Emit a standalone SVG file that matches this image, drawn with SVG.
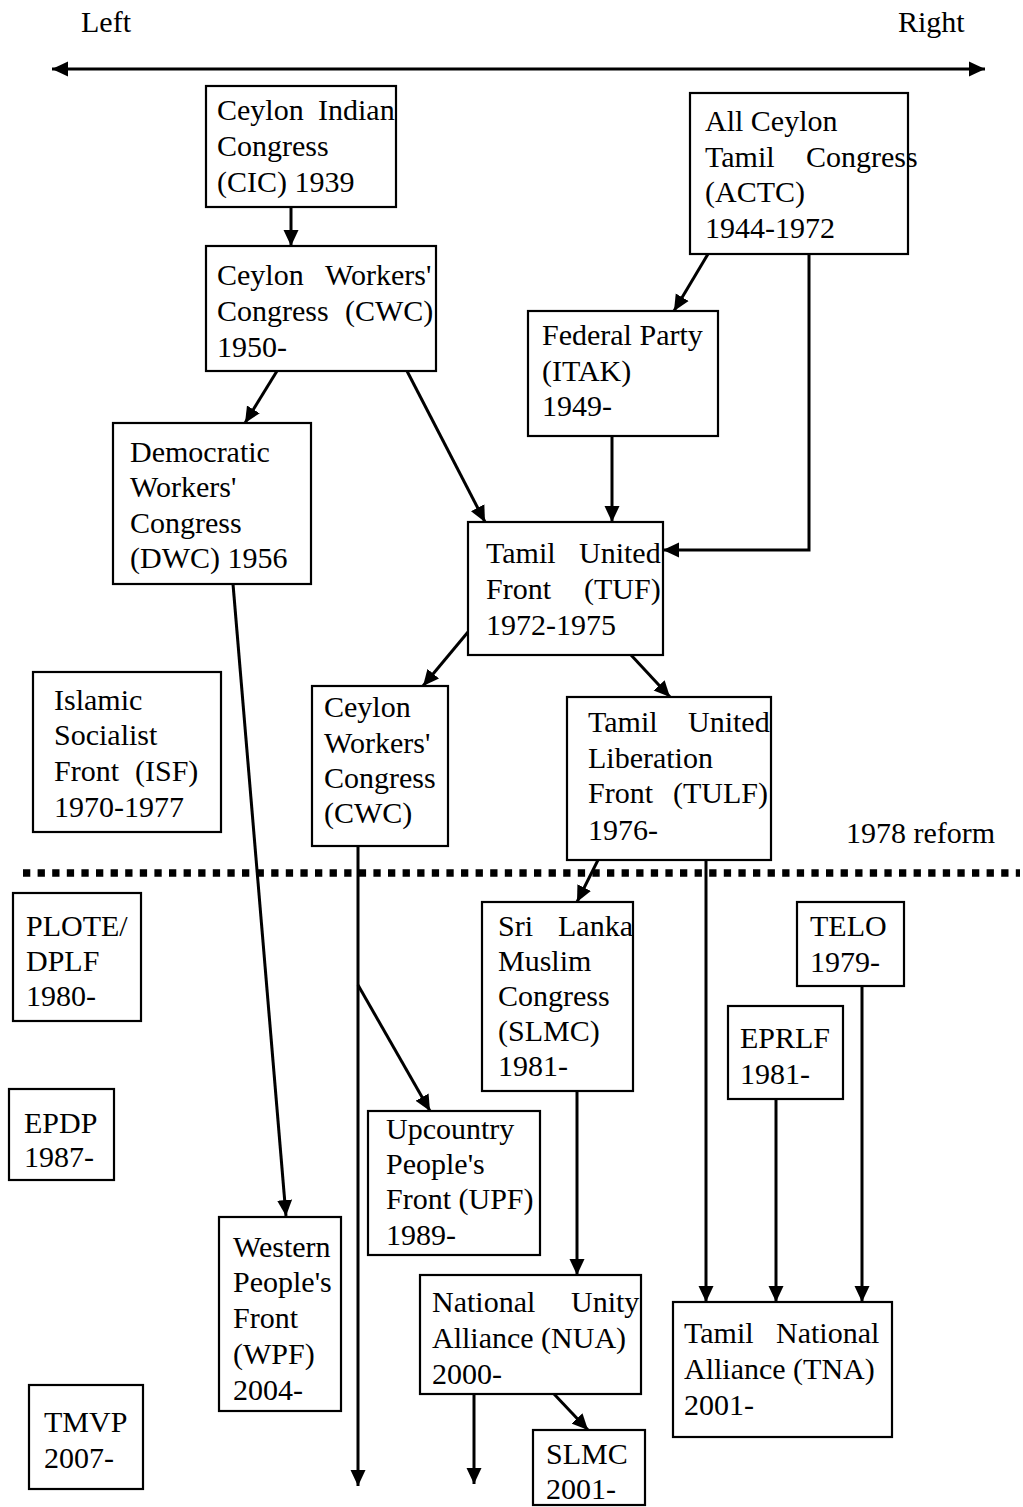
<svg xmlns="http://www.w3.org/2000/svg" width="1023" height="1507" viewBox="0 0 1023 1507">
<style>
.box{fill:#fff;stroke:#000;stroke-width:2.2}
.t{font-family:"Liberation Serif","Times New Roman",serif;font-size:30px;fill:#000}
.c{stroke:#000;stroke-width:3;fill:none}
.dots{stroke:#000;stroke-width:7.3;stroke-dasharray:7.3 7.3;fill:none}
</style>
<defs>
<marker id="ah" markerUnits="userSpaceOnUse" markerWidth="16" markerHeight="16" refX="16" refY="8" orient="auto-start-reverse">
<path d="M0,0.5 L16,8 L0,15.5 z" fill="#000"/>
</marker>
</defs>
<rect width="1023" height="1507" fill="#fff"/>

<g id="axis">
<text class="t" x="81" y="32">Left</text>
<text class="t" x="898" y="32">Right</text>
<line class="c" x1="52" y1="69" x2="985" y2="69" marker-start="url(#ah)" marker-end="url(#ah)"/>
</g>

<g id="reform">
<text class="t" x="846" y="843">1978 reform</text>
<line class="dots" x1="23" y1="873" x2="1020" y2="873"/>
</g>

<g id="connectors">
<path class="c" d="M291,207 L291,246" marker-end="url(#ah)"/>
<path class="c" d="M277,371 L245,423" marker-end="url(#ah)"/>
<path class="c" d="M407,371 L485,522" marker-end="url(#ah)"/>
<path class="c" d="M708,254 L674,311" marker-end="url(#ah)"/>
<path class="c" d="M809,254 L809,550 L663,550" marker-end="url(#ah)"/>
<path class="c" d="M612,436 L612,522" marker-end="url(#ah)"/>
<path class="c" d="M468,632 L423,686" marker-end="url(#ah)"/>
<path class="c" d="M631,655 L670,697" marker-end="url(#ah)"/>
<path class="c" d="M233,584 L286,1216" marker-end="url(#ah)"/>
<path class="c" d="M358,846 L358,1486" marker-end="url(#ah)"/>
<path class="c" d="M358,985 L430,1111" marker-end="url(#ah)"/>
<path class="c" d="M598,860 L577,902" marker-end="url(#ah)"/>
<path class="c" d="M706,860 L706,1302" marker-end="url(#ah)"/>
<path class="c" d="M577,1091 L577,1275" marker-end="url(#ah)"/>
<path class="c" d="M474,1394 L474,1484" marker-end="url(#ah)"/>
<path class="c" d="M554,1394 L588,1430" marker-end="url(#ah)"/>
<path class="c" d="M776,1099 L776,1302" marker-end="url(#ah)"/>
<path class="c" d="M862,986 L862,1302" marker-end="url(#ah)"/>
</g>

<g id="cic">
<rect class="box" x="206" y="86" width="190" height="121"/>
<text class="t"><tspan x="217" y="120">Ceylon</tspan><tspan x="318" y="120">Indian</tspan><tspan x="217" y="156">Congress</tspan><tspan x="217" y="192">(CIC) 1939</tspan></text>
</g>

<g id="cwc1">
<rect class="box" x="206" y="246" width="230" height="125"/>
<text class="t"><tspan x="217" y="285">Ceylon</tspan><tspan x="325" y="285">Workers'</tspan><tspan x="217" y="321">Congress</tspan><tspan x="345" y="321">(CWC)</tspan><tspan x="217" y="357">1950-</tspan></text>
</g>

<g id="actc">
<rect class="box" x="690" y="93" width="218" height="161"/>
<text class="t"><tspan x="705" y="131">All Ceylon</tspan><tspan x="705" y="167">Tamil</tspan><tspan x="806" y="167">Congress</tspan><tspan x="705" y="202">(ACTC)</tspan><tspan x="705" y="238">1944-1972</tspan></text>
</g>

<g id="fp">
<rect class="box" x="528" y="311" width="190" height="125"/>
<text class="t"><tspan x="542" y="345">Federal Party</tspan><tspan x="542" y="381">(ITAK)</tspan><tspan x="542" y="416">1949-</tspan></text>
</g>

<g id="dwc">
<rect class="box" x="113" y="423" width="198" height="161"/>
<text class="t"><tspan x="130" y="462">Democratic</tspan><tspan x="130" y="497">Workers'</tspan><tspan x="130" y="533">Congress</tspan><tspan x="130" y="568">(DWC) 1956</tspan></text>
</g>

<g id="tuf">
<rect class="box" x="468" y="522" width="195" height="133"/>
<text class="t"><tspan x="486" y="563">Tamil</tspan><tspan x="579" y="563">United</tspan><tspan x="486" y="599">Front</tspan><tspan x="584" y="599">(TUF)</tspan><tspan x="486" y="635">1972-1975</tspan></text>
</g>

<g id="isf">
<rect class="box" x="33" y="672" width="188" height="160"/>
<text class="t"><tspan x="54" y="710">Islamic</tspan><tspan x="54" y="745">Socialist</tspan><tspan x="54" y="781">Front</tspan><tspan x="135" y="781">(ISF)</tspan><tspan x="54" y="817">1970-1977</tspan></text>
</g>

<g id="cwc2">
<rect class="box" x="312" y="686" width="136" height="160"/>
<text class="t"><tspan x="324" y="717">Ceylon</tspan><tspan x="324" y="753">Workers'</tspan><tspan x="324" y="788">Congress</tspan><tspan x="324" y="823">(CWC)</tspan></text>
</g>

<g id="tulf">
<rect class="box" x="567" y="697" width="204" height="163"/>
<text class="t"><tspan x="588" y="732">Tamil</tspan><tspan x="688" y="732">United</tspan><tspan x="588" y="768">Liberation</tspan><tspan x="588" y="803">Front</tspan><tspan x="673" y="803">(TULF)</tspan><tspan x="588" y="840">1976-</tspan></text>
</g>

<g id="plote">
<rect class="box" x="13" y="893" width="128" height="128"/>
<text class="t"><tspan x="26" y="936">PLOTE/</tspan><tspan x="26" y="971">DPLF</tspan><tspan x="26" y="1006">1980-</tspan></text>
</g>

<g id="slmc">
<rect class="box" x="482" y="902" width="151" height="189"/>
<text class="t"><tspan x="498" y="936">Sri</tspan><tspan x="558" y="936">Lanka</tspan><tspan x="498" y="971">Muslim</tspan><tspan x="498" y="1006">Congress</tspan><tspan x="498" y="1041">(SLMC)</tspan><tspan x="498" y="1076">1981-</tspan></text>
</g>

<g id="telo">
<rect class="box" x="797" y="902" width="107" height="84"/>
<text class="t"><tspan x="810" y="936">TELO</tspan><tspan x="810" y="972">1979-</tspan></text>
</g>

<g id="eprlf">
<rect class="box" x="728" y="1006" width="115" height="93"/>
<text class="t"><tspan x="740" y="1048">EPRLF</tspan><tspan x="740" y="1084">1981-</tspan></text>
</g>

<g id="epdp">
<rect class="box" x="9" y="1089" width="105" height="91"/>
<text class="t"><tspan x="24" y="1133">EPDP</tspan><tspan x="24" y="1167">1987-</tspan></text>
</g>

<g id="upf">
<rect class="box" x="368" y="1111" width="172" height="144"/>
<text class="t"><tspan x="386" y="1139">Upcountry</tspan><tspan x="386" y="1174">People's</tspan><tspan x="386" y="1209">Front (UPF)</tspan><tspan x="386" y="1245">1989-</tspan></text>
</g>

<g id="wpf">
<rect class="box" x="219" y="1217" width="122" height="194"/>
<text class="t"><tspan x="233" y="1257">Western</tspan><tspan x="233" y="1292">People's</tspan><tspan x="233" y="1328">Front</tspan><tspan x="233" y="1364">(WPF)</tspan><tspan x="233" y="1400">2004-</tspan></text>
</g>

<g id="nua">
<rect class="box" x="420" y="1275" width="221" height="119"/>
<text class="t"><tspan x="432" y="1312">National</tspan><tspan x="571" y="1312">Unity</tspan><tspan x="432" y="1348">Alliance (NUA)</tspan><tspan x="432" y="1384">2000-</tspan></text>
</g>

<g id="tna">
<rect class="box" x="673" y="1302" width="219" height="135"/>
<text class="t"><tspan x="684" y="1343">Tamil</tspan><tspan x="776" y="1343">National</tspan><tspan x="684" y="1379">Alliance (TNA)</tspan><tspan x="684" y="1415">2001-</tspan></text>
</g>

<g id="tmvp">
<rect class="box" x="29" y="1385" width="114" height="104"/>
<text class="t"><tspan x="44" y="1432">TMVP</tspan><tspan x="44" y="1468">2007-</tspan></text>
</g>

<g id="slmc2">
<rect class="box" x="533" y="1430" width="112" height="75"/>
<text class="t"><tspan x="546" y="1464">SLMC</tspan><tspan x="546" y="1499">2001-</tspan></text>
</g>
</svg>
